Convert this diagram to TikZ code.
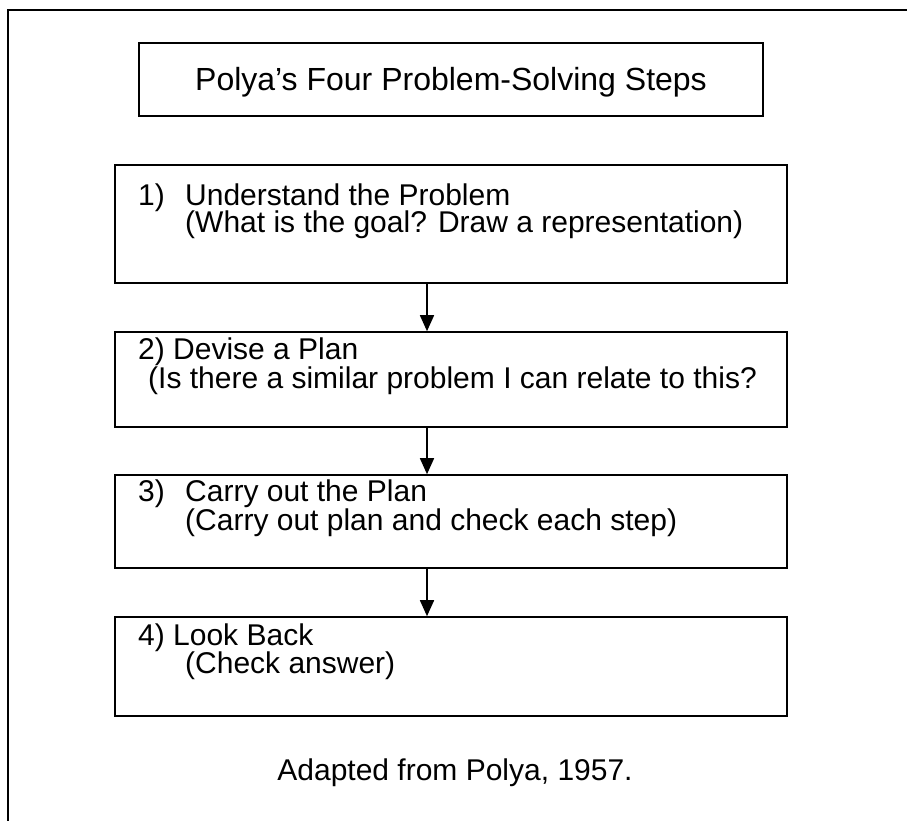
\documentclass[tikz,border=0pt]{standalone}
\usepackage{fontspec}
\setmainfont{Liberation Sans}
\usetikzlibrary{arrows.meta}
\begin{document}
\begin{tikzpicture}[x=1pt,y=-1pt,
  boxst/.style={draw=black,line width=1.6pt,rectangle,inner sep=0pt},
  txt/.style={anchor=base west,inner sep=0pt,font=\fontsize{30}{34}\selectfont},
  arr/.style={line width=1.6pt,-{Triangle[width=14pt,length=16pt]}}]
\useasboundingbox (0,0) rectangle (907,821);
% outer frame (only top and left edges visible)
\coordinate (fbl) at (8,830);
\coordinate (ftl) at (8,10);
\coordinate (ftr) at (915,10);
\draw[line width=2.6pt] (fbl) -- (ftl) -- (ftr);
% title
\node[boxst,minimum width=624pt,minimum height=73pt] (title) at (451,79.5) {};
\node[txt,anchor=base,font=\fontsize{32}{36}\selectfont] (titletxt) at (451,91) {Polya’s Four Problem-Solving Steps};
% boxes
\node[boxst,minimum width=672pt,minimum height=118pt] (b1) at (451,224) {};
\node[boxst,minimum width=672pt,minimum height=95pt] (b2) at (451,379.5) {};
\node[boxst,minimum width=672pt,minimum height=93pt] (b3) at (451,521.5) {};
\node[boxst,minimum width=672pt,minimum height=99pt] (b4) at (451,666.5) {};
% texts
\node[txt] (n1) at (138,205) {1)};
\node[txt] (t1a) at (185,205) {Understand the Problem};
\node[txt] (t1b) at (185,233) {(What is the goal? Draw a representation)};
\node[txt] (t2a) at (138,359) {2) Devise a Plan};
\node[txt] (t2b) at (148,388) {(Is there a similar problem I can relate to this?};
\node[txt] (n3) at (138,501) {3)};
\node[txt] (t3a) at (185,501) {Carry out the Plan};
\node[txt] (t3b) at (185,530) {(Carry out plan and check each step)};
\node[txt] (t4a) at (138,645) {4) Look Back};
\node[txt] (t4b) at (185,673) {(Check answer)};
\node[txt,anchor=base] (cap) at (455,780) {Adapted from Polya, 1957.};
% arrows
\coordinate (ax) at (427,0);
\draw[arr] (b1.south -| ax) -- (b2.north -| ax);
\draw[arr] (b2.south -| ax) -- (b3.north -| ax);
\draw[arr] (b3.south -| ax) -- (b4.north -| ax);
\end{tikzpicture}
\end{document}
